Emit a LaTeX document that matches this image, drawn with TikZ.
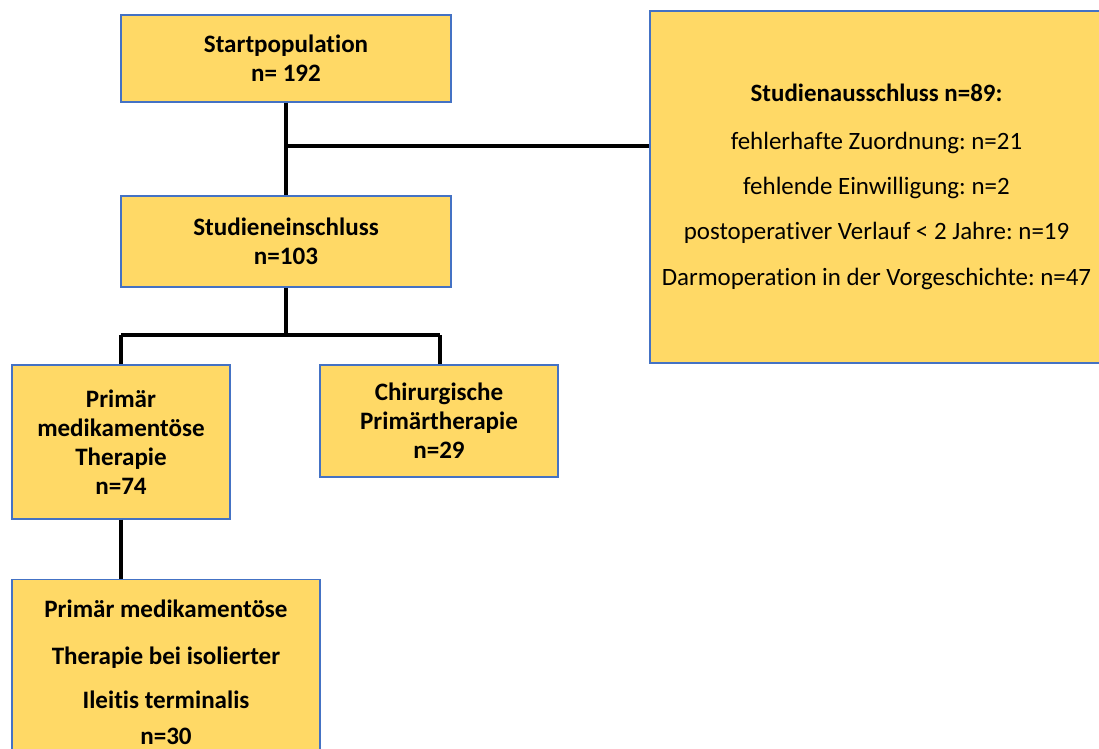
\documentclass[tikz,border=0pt]{standalone}
\usepackage{fontspec}
\setmainfont{Carlito}[Ligatures=NoCommon]
\definecolor{boxfill}{HTML}{FFD966}
\definecolor{boxline}{HTML}{4472C4}
\frenchspacing
\begin{document}
\begin{tikzpicture}[x=0.75pt,y=-0.75pt,
  box/.style={draw=boxline,line width=1.1pt,fill=boxfill,rectangle,inner sep=0pt,align=center,font=\fontsize{18.8}{21.75}\selectfont\bfseries},
  conn/.style={line width=2.3pt,black}]
\useasboundingbox (0,0) rectangle (1099,749);
\clip (0,0) rectangle (1099,749);
\node[box,minimum width=330*0.75pt,minimum height=87*0.75pt] (start) at (286,58.5) {Startpopulation\\n= 192};
\node[box,minimum width=330*0.75pt,minimum height=91*0.75pt] (stud) at (286,241.5) {Studieneinschluss\\n=103};
\node[box,minimum width=453*0.75pt,minimum height=352*0.75pt,font=\fontsize{18.7}{34}\selectfont] (excl) at (876.5,187) {\textbf{Studienausschluss n=89:}\\[1.5pt]fehlerhafte Zuordnung: n=21\\fehlende Einwilligung: n=2\\postoperativer Verlauf < 2 Jahre: n=19\\Darmoperation in der Vorgeschichte: n=47};
\node[box,minimum width=218*0.75pt,minimum height=154*0.75pt] (prim) at (121,442) {Primär\\medikamentöse\\Therapie\\n=74};
\node[box,minimum width=238*0.75pt,minimum height=112*0.75pt] (chir) at (439,421) {Chirurgische\\Primärtherapie\\n=29};
\node[box,minimum width=308*0.75pt,minimum height=185*0.75pt,font=\fontsize{18.8}{27}\selectfont\bfseries] (ileo) at (166,672) {Primär medikamentöse\\[8pt]Therapie bei isolierter\\[6pt]Ileitis terminalis\\n=30};
\coordinate (j1) at (286,146);
\coordinate (j2) at (286,335);
\coordinate (jl) at (121,335);
\coordinate (jr) at (440,335);
\draw[conn] (start.south) -- (stud.north);
\draw[conn] (j1) -- (excl.west |- j1);
\draw[conn] (stud.south) -- (j2);
\draw[conn] (jl) -- (jr);
\draw[conn] (jl) -- (prim.north);
\draw[conn] (jr) -- (jr |- chir.north);
\draw[conn] (prim.south) -- (prim.south |- ileo.north);
\end{tikzpicture}
\end{document}
